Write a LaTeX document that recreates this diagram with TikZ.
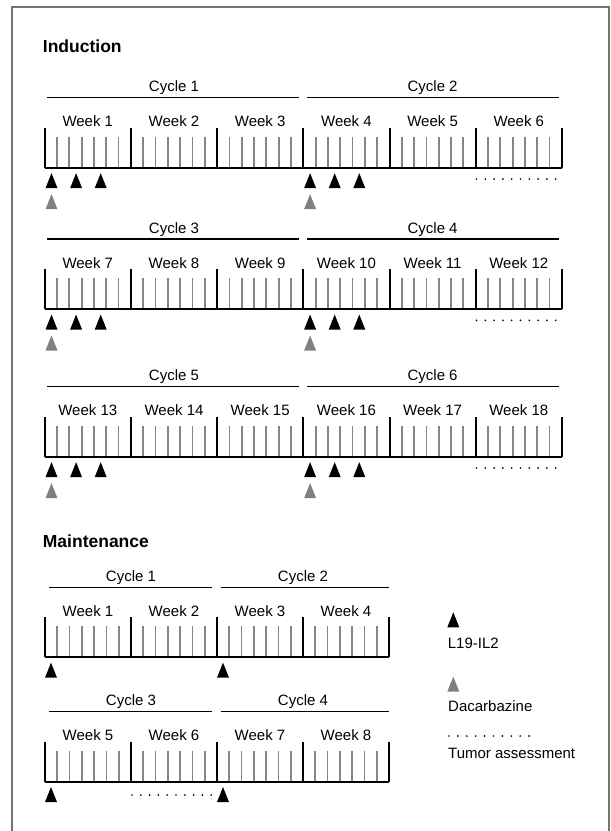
\documentclass[tikz,border=0pt]{standalone}
\usepackage{fontspec}
\setmainfont{Liberation Sans}
\usetikzlibrary{positioning}
\tikzset{
	weektick/.style={line width=2pt, black},
	daytick/.style={line width=1.8pt, black!48},
	axisline/.style={line width=2.2pt, black},
	cycleline/.style={line width=1.4pt, black},
	frameline/.style={line width=2pt, black!55},
	weeklabel/.style={anchor=base, inner sep=0pt, font=\fontsize{15}{18}\selectfont},
	legendlabel/.style={anchor=base west, inner sep=0pt, font=\fontsize{15}{18}\selectfont},
	phaselabel/.style={anchor=base west, inner sep=0pt, font=\fontsize{17.5}{20}\selectfont\bfseries},
	dose/.pic={\fill[#1] (-6,15) -- (6,15) -- (0,0) -- cycle;}
}
\begin{document}
\begin{tikzpicture}[x=1pt, y=-1pt]
	\useasboundingbox (0,0) rectangle (611,831);
	\draw[frameline] (12,831) -- (12,7) -- (609,7) -- (609,831);
	
	% Induction
	\node[phaselabel] (induction) at (42.7,52) {Induction};
	\foreach \r/\b in {0/167.7, 1/309, 2/456.7} {
		% weeks
		\foreach \k in {0,...,5} {
			\pgfmathtruncatemacro\wk{6*\r+\k+1}
			\node[weeklabel] (iweek\wk) at ({44.7+86.2*(\k+0.5)},\b-41) {Week \wk};
			\foreach \d in {1,...,6}
				\draw[daytick] ({44.7+86.2*\k+12.314*\d},\b) -- ++(0,-31);
		}
		\foreach \k in {0,...,6}
			\draw[weektick] ({44.7+86.2*\k},\b) -- ++(0,-40);
		\draw[axisline] (44.7,\b) -- (561.9,\b);
		% cycles
		\foreach \c in {0,1} {
			\pgfmathtruncatemacro\cy{2*\r+\c+1}
			\node[weeklabel] (icycle\cy) at ({174+258.6*\c},\b-76) {Cycle \cy};
			\draw[cycleline] ({47.3+260*\c},\b-70) -- ({298.7+260.6*\c},\b-70);
			% doses
			\foreach \j in {0,1,2}
				\pic at ({51.5+258.6*\c+24.6*\j},\b+5.5) {dose=black};
			\pic at ({51.5+258.6*\c},\b+26.5) {dose=black!50};
		}
		% tumor assessment
		\foreach \i in {0,...,9}
			\fill (476.5+8.8*\i,\b+11.3) circle (0.95pt);
	}
	
	% Maintenance
	\node[phaselabel] (maintenance) at (42.7,547) {Maintenance};
	\foreach \r/\b in {0/657.3, 1/781.7} {
		% weeks
		\foreach \k in {0,...,3} {
			\pgfmathtruncatemacro\wk{4*\r+\k+1}
			\node[weeklabel] (mweek\wk) at ({45+86*(\k+0.5)},\b-41) {Week \wk};
			\foreach \d in {1,...,6}
				\draw[daytick] ({45+86*\k+12.286*\d},\b) -- ++(0,-31);
		}
		\foreach \k in {0,...,4}
			\draw[weektick] ({45+86*\k},\b) -- ++(0,-40);
		\draw[axisline] (45,\b) -- (389,\b);
		% cycles
		\foreach \c in {0,1} {
			\pgfmathtruncatemacro\cy{2*\r+\c+1}
			\node[weeklabel] (mcycle\cy) at ({131+172*\c},\b-76) {Cycle \cy};
			\draw[cycleline] ({49.3+171.4*\c},\b-70) -- ({211.7+177.6*\c},\b-70);
			\pic at ({51+172*\c},\b+5.4) {dose=black};
		}
	}
	% tumor assessment
	\foreach \i in {0,...,9}
		\fill (132+8.8*\i,795) circle (0.95pt);
	
	% Legend
	\pic at (453.3,612.3) {dose=black};
	\node[legendlabel] (lgdrug) at (447.7,648.6) {L19-IL2};
	\pic at (453.3,676.7) {dose=black!50};
	\node[legendlabel] (lgdacarb) at (448,711.3) {Dacarbazine};
	\foreach \i in {0,...,9}
		\fill (449+8.9*\i,736) circle (0.95pt);
	\node[legendlabel] (lgtumor) at (448,758) {Tumor assessment};
\end{tikzpicture}
\end{document}
